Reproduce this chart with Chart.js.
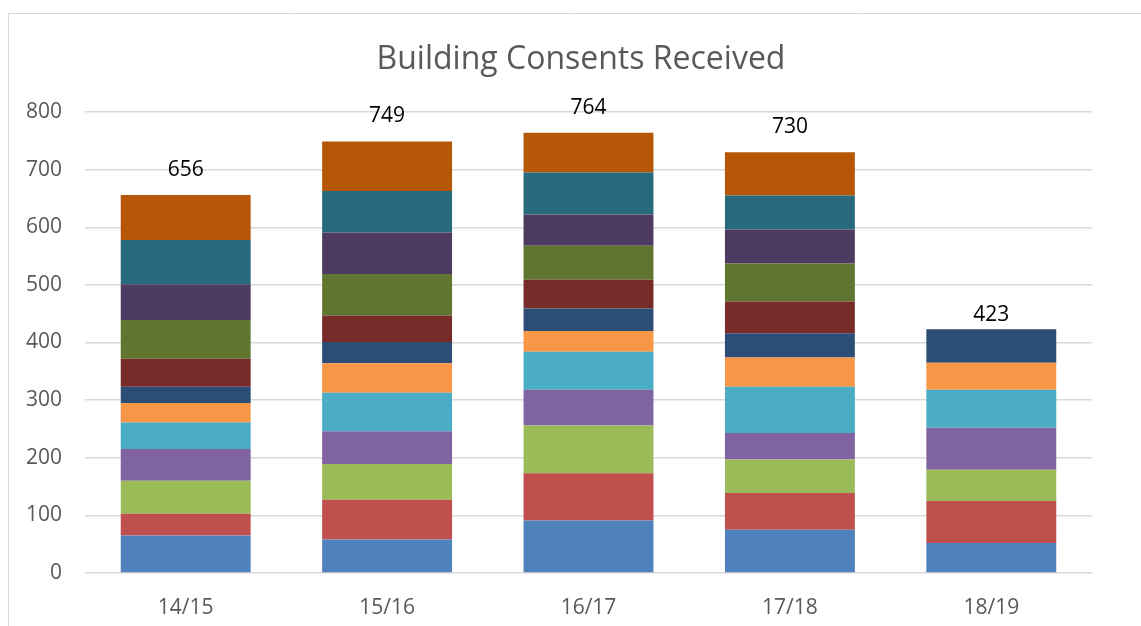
<!DOCTYPE html>
<html>
<head>
<meta charset="utf-8">
<script src="https://cdn.jsdelivr.net/npm/chart.js@4.4.1/dist/chart.umd.min.js"></script>
<style>
  html, body { margin: 0; padding: 0; background: #fff; }
  #wrap { width: 1141px; height: 626px; position: relative; }
</style>
</head>
<body>
<div id="wrap"><canvas id="chart"></canvas></div>
<script>
// Building consents per month, by financial year
const years = ['14/15', '15/16', '16/17', '17/18', '18/19'];
const months = ['Jul', 'Aug', 'Sep', 'Oct', 'Nov', 'Dec', 'Jan', 'Feb', 'Mar', 'Apr', 'May', 'Jun'];

const jul = [65, 58, 91, 75, 52];
const aug = [38, 69, 82, 64, 73];
const sep = [57, 62, 83, 58, 54];
const oct = [55, 57, 62, 46, 73];
const nov = [46, 67, 66, 80, 66];
const dec = [34, 51, 36, 51, 47];
const jan = [28, 37, 39, 42, 58];
const feb = [49, 46, 50, 55, 0];
const mar = [67, 72, 59, 66, 0];
const apr = [62, 72, 54, 59, 0];
const may = [77, 72, 73, 59, 0];
const jun = [78, 86, 69, 75, 0];

const yTicks = [0, 100, 200, 300, 400, 500, 600, 700, 800];
const title = 'Building Consents Received';

const colours = ['#4F81BD', '#C0504D', '#9BBB59', '#8064A2', '#4BACC6', '#F79646',
                 '#2C4D75', '#772C2A', '#5F7530', '#4D3B62', '#276A7C', '#B65708'];

const series = [jul, aug, sep, oct, nov, dec, jan, feb, mar, apr, may, jun];

const datasets = series.map((vals, i) => ({
    label: months[i],
    data: vals,
    backgroundColor: colours[i],
    borderWidth: 0,
    barPercentage: 0.645,
    categoryPercentage: 1
}));

// totals above each stack
const totalsPlugin = {
    id: 'totals',
    afterDatasetsDraw(chart) {
        const ctx = chart.ctx;
        ctx.save();
        ctx.font = '21px "Open Sans"';
        ctx.fillStyle = '#000';
        ctx.textAlign = 'center';
        ctx.textBaseline = 'middle';
        years.forEach((y, i) => {
            const total = series.reduce((s, arr) => s + arr[i], 0);
            const x = chart.scales.x.getPixelForValue(i);
            const top = chart.scales.y.getPixelForValue(total);
            // the part-year bar has its label a bit closer
            const gap = jun[i] === 0 ? 14 : 25;
            ctx.fillText(String(total), x, top - gap);
        });
        ctx.restore();
    }
};

// frame and title
const framePlugin = {
    id: 'frame',
    beforeDraw(chart) {
        const ctx = chart.ctx;
        ctx.save();
        ctx.strokeStyle = '#d9d9d9';
        ctx.lineWidth = 1;
        ctx.beginPath();
        ctx.moveTo(8.5, chart.height);
        ctx.lineTo(8.5, 13.5);
        ctx.lineTo(chart.width, 13.5);
        ctx.stroke();

        ctx.font = '32px "Open Sans"';
        ctx.fillStyle = '#595959';
        ctx.textAlign = 'center';
        ctx.textBaseline = 'middle';
        ctx.fillText(title, 581, 60);
        ctx.restore();
    }
};

new Chart(document.getElementById('chart'), {
    type: 'bar',
    data: { labels: years, datasets: datasets },
    options: {
        responsive: true,
        maintainAspectRatio: false,
        animation: false,
        layout: { padding: { left: 0, right: 49, top: 112, bottom: 0 } },
        plugins: {
            legend: { display: false },
            tooltip: { enabled: false },
            title: { display: false }
        },
        scales: {
            x: {
                stacked: true,
                grid: { display: false },
                border: { display: false },
                ticks: { color: '#595959', font: { family: 'Open Sans', size: 21 }, padding: 14 },
                afterFit(scale) { scale.height = 53; }
            },
            y: {
                stacked: true,
                min: 0,
                max: 800,
                afterBuildTicks(scale) { scale.ticks = yTicks.map(v => ({ value: v })); },
                grid: { color: '#d9d9d9', lineWidth: 1.5, drawTicks: false },
                border: { display: false },
                ticks: { color: '#595959', font: { family: 'Open Sans', size: 21 }, padding: 23 },
                afterFit(scale) { scale.width = 85; }
            }
        }
    },
    plugins: [framePlugin, totalsPlugin]
});
</script>
</body>
</html>
